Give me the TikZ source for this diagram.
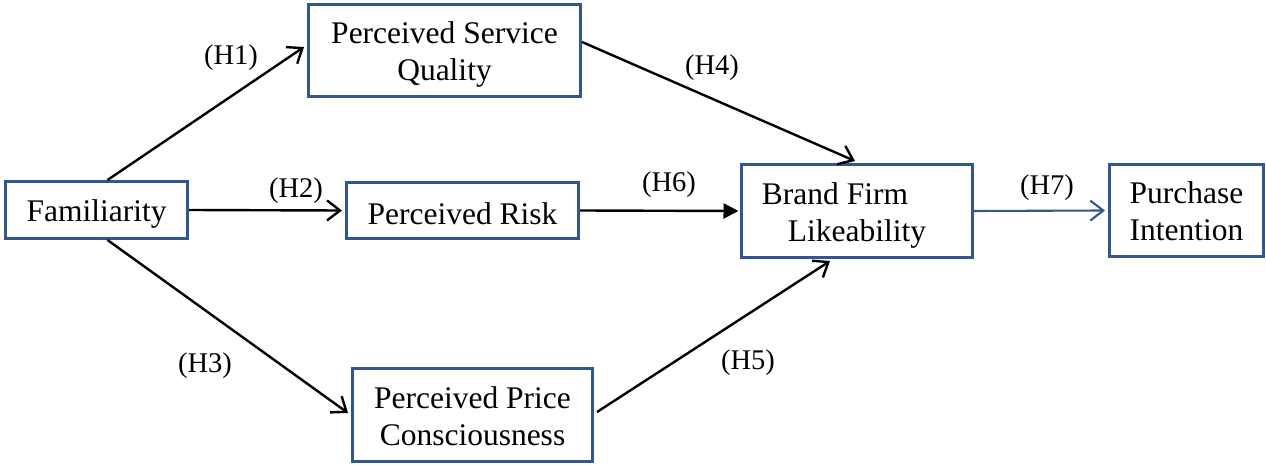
\documentclass[tikz,border=0pt]{standalone}
\usepackage{fontspec}
\setmainfont{Liberation Serif}
\usetikzlibrary{arrows.meta,calc}
\definecolor{boxblue}{RGB}{50,86,142}
\tikzset{
  box/.style={draw=boxblue, line width=3pt, fill=white, inner sep=0pt},
  boxtext/.style={align=center, inner sep=0pt, font=\fontsize{31.5}{37}\selectfont},
  conn/.style={line width=2.4pt, draw=black, -{Straight Barb[length=13pt,width=20pt]}},
  connfill/.style={line width=2.4pt, draw=black, -{Triangle[length=15pt,width=15pt]}},
  connblue/.style={line width=2.1pt, draw=boxblue, -{Straight Barb[length=13pt,width=20pt]}},
  hlab/.style={inner sep=0pt, font=\fontsize{28.5}{32}\selectfont}
}
\begin{document}
\begin{tikzpicture}[x=1pt,y=-1pt]
\useasboundingbox (0,0) rectangle (1266,465);
\node[box, minimum width=182pt, minimum height=57pt] (fam) at (96.5,210) {};
\node[box, minimum width=272pt, minimum height=92pt] (psq) at (444.5,50.5) {};
\node[box, minimum width=232pt, minimum height=56pt] (risk) at (462.5,210.5) {};
\node[box, minimum width=231pt, minimum height=93pt] (bfl) at (857,211) {};
\node[box, minimum width=154pt, minimum height=92pt] (pi) at (1186.5,210.5) {};
\node[box, minimum width=240pt, minimum height=93pt] (ppc) at (472.5,415) {};

\node[boxtext] (famt) at ([yshift=-4pt]fam.center) {Familiarity};
\node[boxtext] (psqt) at ([yshift=-4pt]psq.center) {Perceived Service\\Quality};
\node[boxtext] (riskt) at ([yshift=-3pt]risk.center) {Perceived Risk};
\node[boxtext] (bflt) at ([yshift=-4pt]bfl.center) {Brand Firm\hspace*{44pt}\\Likeability};
\node[boxtext] (pit) at ([yshift=-1pt]pi.center) {Purchase\\Intention};
\node[boxtext] (ppct) at ([yshift=-1.5pt]ppc.center) {Perceived Price\\Consciousness};

\draw[conn] ([xshift=103.5pt]fam.north west) -- ([yshift=3.5pt,xshift=-3pt]psq.west);
\draw[conn] (fam.east) -- ([xshift=-3pt]risk.west);
\draw[conn] ([xshift=103.5pt]fam.south west) -- ([yshift=2pt,xshift=-3pt]ppc.west);
\draw[conn] ([yshift=8.5pt]psq.east) -- ([xshift=-2pt,yshift=2pt]bfl.north);
\draw[connfill] (risk.east) -- ([xshift=-1.5pt]bfl.west);
\draw[conn] ([yshift=3pt,xshift=3pt]ppc.east) -- ([xshift=-27pt,yshift=-2pt]bfl.south);
\draw[connblue] (bfl.east) -- ([xshift=-3pt]pi.west);

\node[hlab] (h1) at (231,58) {(H1)};
\node[hlab] (h2) at (296,191) {(H2)};
\node[hlab] (h3) at (205,366) {(H3)};
\node[hlab] (h4) at (712,68) {(H4)};
\node[hlab] (h6) at (669,185) {(H6)};
\node[hlab] (h5) at (748,363) {(H5)};
\node[hlab] (h7) at (1047,188) {(H7)};
\end{tikzpicture}
\end{document}
